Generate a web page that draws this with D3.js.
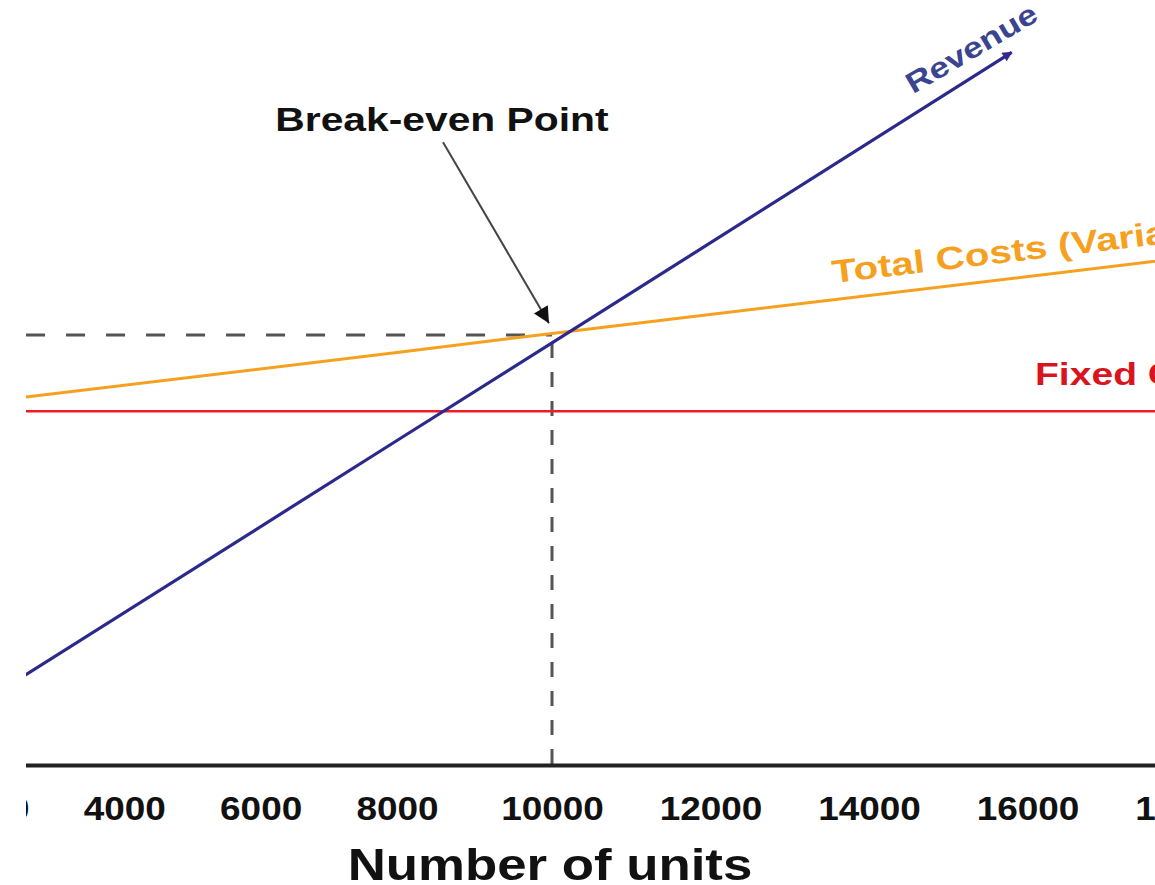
<!DOCTYPE html>
<html><head><meta charset="utf-8">
<script src="https://cdn.jsdelivr.net/npm/d3@7"></script>
<style>body{margin:0;background:#fff} svg{display:block}</style>
</head><body>
<script>
// ---- data (units on x, money on y) ----
const tickValues = [2000, 4000, 6000, 8000, 10000, 12000, 14000, 16000, 18000];
const revenueUnits = [2000, 8000, 10000, 15800];
const revenueValues = [10400, 50900, 66200, 111800];
const costUnits = [2000, 8000, 10000, 18000];
const totalCostValues = [57000, 64700, 67700, 79600];
const fixedUnits = [2000, 18000];
const fixedCostValues = [55500, 55500];
const breakEvenUnits = 10000;
const breakEvenValue = 67450;
const labelRevenue = {u: 14555, v: 105200, text: "Revenue", angle: -30.5};
const labelTotal = {u: 13550, v: 75600, text: "Total Costs (Variable + Fixed)", angle: -6.8};
const labelFixed = {u: 16095, v: 59600, text: "Fixed Costs", angle: 0};
const labelBE = {u: 8580, v: 99400, text: "Break-even Point"};
const beArrow = {u0: 8594, v0: 97700, u1: 9961, v1: 69300};
const xTitle = "Number of units";

// ---- layout ----
const W = 1155, H = 885;
const axisY = 765, plotLeft = 26;
const SX = 1.2; // horizontal stretch of the original picture
const FONT = "'Liberation Sans', Arial, Helvetica, sans-serif";

const x = d3.scaleLinear().domain([2000, 8000, 10000, 18000]).range([-12, 397, 552, 1186]);
const y = d3.scaleLinear().domain([0, 120000]).range([axisY, 0]);

const svg = d3.select("body").append("svg").attr("width", W).attr("height", H);
const defs = svg.append("defs");
defs.append("clipPath").attr("id", "clip").append("rect")
  .attr("x", plotLeft).attr("y", 0).attr("width", W - plotLeft).attr("height", H);
defs.append("marker").attr("id", "headBE").attr("markerUnits", "userSpaceOnUse")
  .attr("viewBox", "0 0 10 10").attr("refX", 10).attr("refY", 5)
  .attr("markerWidth", 18).attr("markerHeight", 16).attr("orient", "auto")
  .append("path").attr("d", "M0,0 L10,5 L0,10 Z").attr("fill", "#111");
defs.append("marker").attr("id", "headRev").attr("markerUnits", "userSpaceOnUse")
  .attr("viewBox", "0 0 10 10").attr("refX", 9).attr("refY", 5)
  .attr("markerWidth", 13).attr("markerHeight", 10).attr("orient", "auto")
  .append("path").attr("d", "M0,0 L10,5 L0,10 Z").attr("fill", "#2e2a8e");

const g = svg.append("g").attr("clip-path", "url(#clip)");
const line = d3.line().x(d => x(d[0])).y(d => y(d[1]));

// dashed guides
g.append("line").attr("x1", x(2000)).attr("x2", x(breakEvenUnits))
  .attr("y1", y(breakEvenValue)).attr("y2", y(breakEvenValue))
  .attr("stroke", "#555").attr("stroke-width", 3).attr("stroke-dasharray", "19 21")
  .attr("stroke-dashoffset", -38);
g.append("line").attr("x1", x(breakEvenUnits)).attr("x2", x(breakEvenUnits))
  .attr("y1", y(breakEvenValue)).attr("y2", y(0))
  .attr("stroke", "#555").attr("stroke-width", 3).attr("stroke-dasharray", "15 14")
  .attr("stroke-dashoffset", -8);

// fixed costs
g.append("path").datum(d3.zip(fixedUnits, fixedCostValues)).attr("d", line)
  .attr("fill", "none").attr("stroke", "#ee1c24").attr("stroke-width", 2.6);
// total costs
g.append("path").datum(d3.zip(costUnits, totalCostValues)).attr("d", line)
  .attr("fill", "none").attr("stroke", "#f5a11f").attr("stroke-width", 3);
// revenue
g.append("path").datum(d3.zip(revenueUnits, revenueValues)).attr("d", line)
  .attr("fill", "none").attr("stroke", "#2b2a8c").attr("stroke-width", 3.2)
  .attr("marker-end", "url(#headRev)");

// axis
const axis = d3.axisBottom(x).tickValues(tickValues).tickSize(0).tickSizeOuter(0).tickPadding(32)
  .tickFormat(d3.format("d"));
const ax = g.append("g").attr("transform", `translate(0,${axisY})`).call(axis);
ax.select(".domain").attr("stroke", "#222").attr("stroke-width", 4);
ax.selectAll(".tick text").attr("font-family", FONT).attr("font-weight", "bold")
  .attr("font-size", 33).attr("fill", "#111").attr("transform", `scale(1.12,1)`);

// text helper
function label(t, px, py, angle, size, color, anchor, sx) {
  g.append("text").attr("transform", `translate(${px},${py}) rotate(${angle}) scale(${sx || SX},1)`)
    .attr("font-family", FONT).attr("font-weight", "bold").attr("font-size", size)
    .attr("fill", color).attr("text-anchor", anchor).text(t);
}
label(labelRevenue.text, x(labelRevenue.u), y(labelRevenue.v), labelRevenue.angle, 29, "#3a448f", "start", 1.22);
label(labelTotal.text, x(labelTotal.u), y(labelTotal.v), labelTotal.angle, 32, "#f5a11f", "start", 1.26);
label(labelFixed.text, x(labelFixed.u), y(labelFixed.v), labelFixed.angle, 32, "#d9141e", "start", 1.22);
label(labelBE.text, x(labelBE.u), y(labelBE.v), 0, 34, "#111", "middle", 1.2);

// break-even arrow
g.append("line").attr("x1", x(beArrow.u0)).attr("y1", y(beArrow.v0))
  .attr("x2", x(beArrow.u1)).attr("y2", y(beArrow.v1))
  .attr("stroke", "#444").attr("stroke-width", 2).attr("marker-end", "url(#headBE)");

// x title
label(xTitle, 550, 880, 0, 44, "#111", "middle", 1.2);
</script>
</body></html>
